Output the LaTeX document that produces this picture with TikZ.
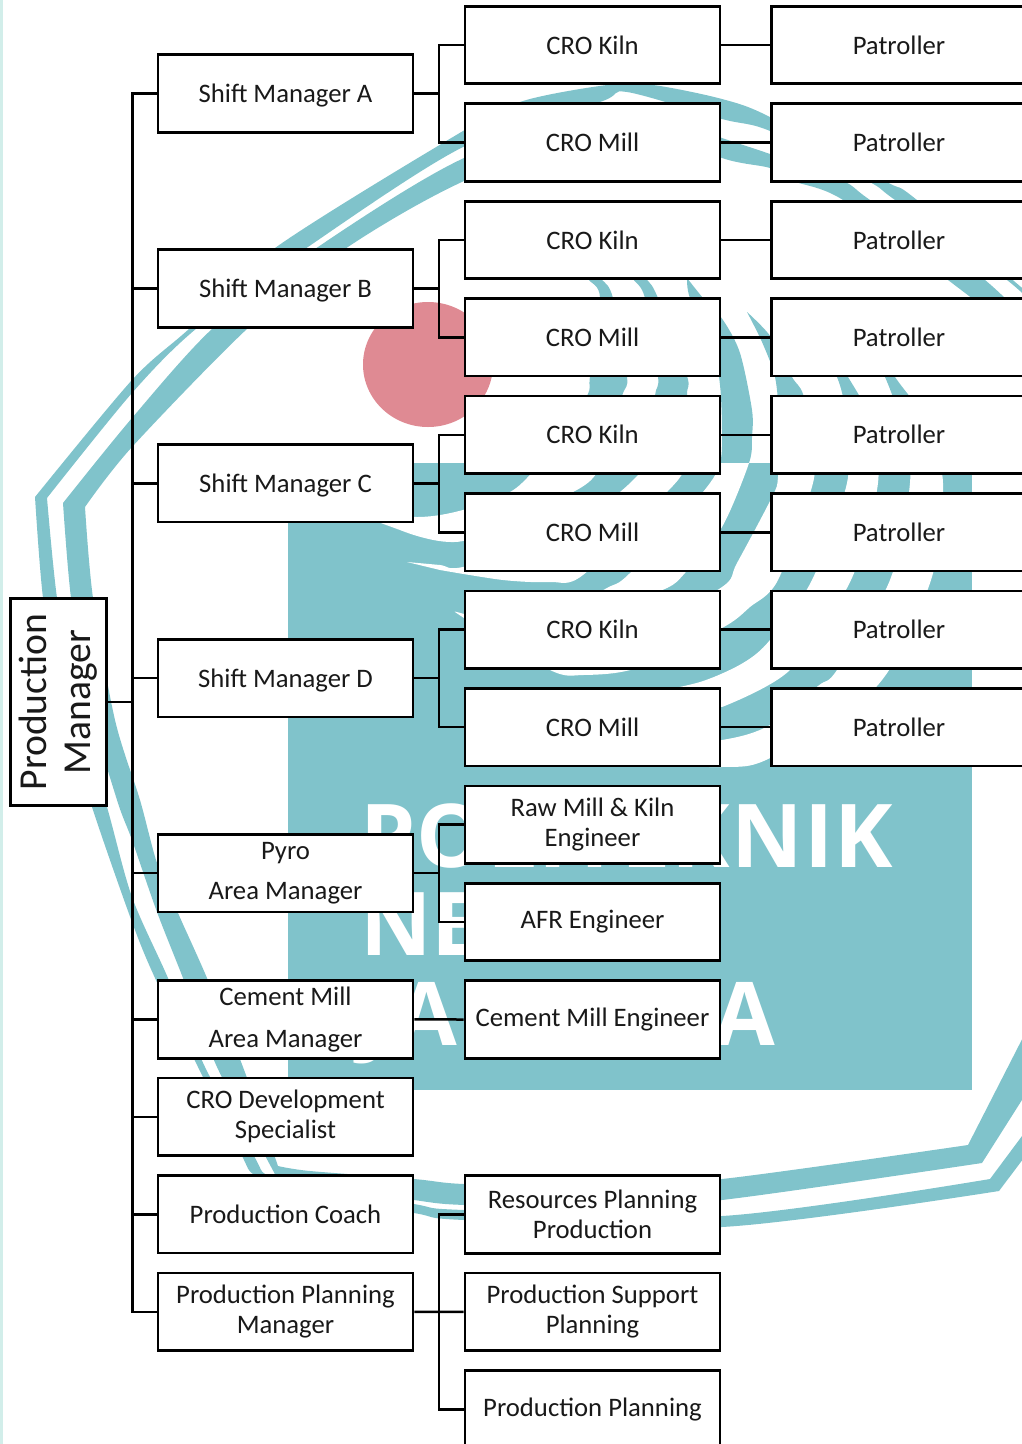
\documentclass[tikz,border=0pt]{standalone}
\usepackage{fontspec}
\setmainfont{Carlito}
\newfontfamily\logofont{Open Sans}
\definecolor{logoteal}{HTML}{80C3CB}
\definecolor{logored}{HTML}{DF8A93}
\definecolor{logostrip}{HTML}{D2EEEA}

% the rings are teal above the logo block and white inside it
\newcommand{\logorings}{
  plot[smooth,tension=.5] coordinates {(570,255) (587,278) (600,298) (590,376) (587,396) (555,450) (532,473) (510,492) (463,510) (417,517) (345,510)}
  -- plot[smooth,tension=.5] coordinates {(400,530) (463,541) (573,492) (597,473) (600,463) (622,396) (627,376) (613,298) (600,278) (570,255)} -- cycle
  plot[smooth,tension=.5] coordinates {(615,255) (632,278) (645,298) (658,376) (655,396) (648,463) (640,473) (620,492) (560,540) (463,567) (440,565) (407,562)}
  -- plot[smooth,tension=.5] coordinates {(440,570) (503,580) (550,582) (583,575) (667,492) (683,473) (690,463) (687,396) (687,376) (658,298) (645,278) (615,255)} -- cycle
  plot[smooth,tension=.5] coordinates {(687,278) (690,298) (712,340) (720,385) (722,430) (720,463) (703,492) (630,573) (607,588) (565,610)}
  -- plot[smooth,tension=.5] coordinates {(620,605) (667,588) (685,573) (722,527) (749,463) (752,437) (752,410) (740,353) (723,320) (703,298) (687,278)} -- cycle
  plot[smooth,tension=.5] coordinates {(747,312) (762,342) (775,377) (779,420) (778,477) (772,497) (737,563) (722,587) (640,630) (550,640) (464,614) (455,612)}
  -- plot[smooth,tension=.5] coordinates {(464,618) (550,670) (583,675) (637,668) (722,628) (750,607) (778,580) (813,483) (812,440) (803,394) (792,377) (771,337) (747,312)} -- cycle
  plot[smooth,tension=.5] coordinates {(800,305) (837,377) (846,420) (847,483) (812,580) (770,640) (743,663) (700,682) (640,695)}
  -- plot[smooth,tension=.5] coordinates {(722,707) (790,670) (851,580) (878,483) (870,420) (848,377) (800,305)} -- cycle
  plot[smooth,tension=.5] coordinates {(850,310) (885,377) (903,430) (910,483) (890,580) (837,670) (818,686) (770,725) (722,740) (620,750)}
  -- plot[smooth,tension=.5] coordinates {(660,764) (722,767) (770,758) (877,686) (931,580) (943,483) (925,420) (895,377) (850,310)} -- cycle
}

\begin{document}
\begin{tikzpicture}[x=1pt,y=-1pt,node distance=97.45pt,
    orgbox/.style={draw=black,fill=white,line width=2.7pt,minimum width=255pt,minimum height=77.5pt,
      inner sep=0pt,align=center,text=black!90,font=\fontsize{26.7}{30}\selectfont},
    shiftbox/.style={orgbox,text depth=0pt},
    link/.style={draw=black,line width=2.5pt},
    logoword/.style={anchor=base west,inner sep=0pt,text=white,font=\logofont\bfseries\fontsize{88}{88}\selectfont}]
    \useasboundingbox (0,0) rectangle (1021,1444);

    % logo behind the chart
    \fill[logostrip] (0,0) rectangle (3,1444);
    \fill[logoteal] plot[smooth,tension=.5] coordinates {(1060,320) (917,200) (885,181) (770,117) (722,99) (653,85) (607,85) (523,101) (463,131) (275,248) (190,328) (132,380) (35,497)}
        -- plot[smooth,tension=.5] coordinates {(35,497) (43,598) (60,700) (92,807) (132,922) (155,978) (198,1067) (242,1156) (253,1174) (285,1190)}
        -- plot[smooth,tension=.5] coordinates {(285,1190) (414,1213) (464,1220) (722,1227) (999,1191)}
        -- (1060,1110) -- (1060,1085) -- (990,1179)
        -- plot[smooth,tension=.5] coordinates {(990,1179) (722,1216) (464,1210) (414,1204) (290,1180)}
        -- plot[smooth,tension=.5] coordinates {(290,1180) (265,1174) (254,1156) (205,1067) (168,978) (132,897) (107,807) (75,700) (57,598) (47,498)}
        -- plot[smooth,tension=.5] coordinates {(47,498) (132,393) (197,328) (305,249) (463,147) (600,102) (627,92) (722,119) (770,131) (868,181) (895,200) (1007,280) (1060,330)} -- cycle;
    \fill[logoteal] plot[smooth,tension=.5] coordinates {(1060,355) (985,280) (870,200) (843,181) (770,154) (722,138) (627,105) (464,158) (315,249) (213,328) (132,418) (63,503)}
        -- plot[smooth,tension=.5] coordinates {(63,503) (71,598) (88,700) (117,800) (132,840) (157,912) (183,978) (217,1067) (262,1150) (277,1178)}
        -- plot[smooth,tension=.5] coordinates {(277,1178) (414,1200) (464,1205) (590,1208) (722,1200) (982,1163)}
        -- (1060,1040) -- (1060,965) -- (968,1145)
        -- plot[smooth,tension=.5] coordinates {(968,1145) (722,1179) (590,1186) (464,1184) (414,1179) (310,1171) (278,1166)}
        -- plot[smooth,tension=.5] coordinates {(278,1166) (243,1067) (207,978) (178,913) (157,863) (140,800) (115,720) (93,598) (85,507)}
        -- plot[smooth,tension=.5] coordinates {(85,507) (132,447) (248,328) (345,249) (464,181) (627,120) (722,158) (770,168) (793,181) (843,200) (948,280) (1060,365)} -- cycle;
    \fill[logored] (428,364.5) ellipse [x radius=65,y radius=62.5];
    \fill[logoteal] \logorings;
    \fill[logoteal] (288,463) rectangle (972,1090);
    \begin{scope}
        \clip (288,463) rectangle (972,1090);
        \fill[white] \logorings;
    \end{scope}
    \node[logoword] (wordOne) at (360,867) {\addfontfeature{LetterSpace=1.4}POLITEKNIK};
    \node[logoword] (wordTwo) at (360,955) {NEGERI};
    \node[logoword] (wordThree) at (360,1045) {\addfontfeature{LetterSpace=8}JAKARTA};

    % chart
    \node[draw=black,fill=white,line width=2.7pt,rotate=90,minimum width=207pt,minimum height=96pt,inner sep=0pt,
        align=center,text=black!90,font=\fontsize{39.6}{44}\selectfont] (prodMgr) at (58.5,702) {Production\\Manager};

    \node[shiftbox] (smA) at (285.5,93.5) {Shift Manager A};
    \node[shiftbox, below of=smA, node distance=194.9pt] (smB) {Shift Manager B};
    \node[shiftbox, below of=smB, node distance=194.9pt] (smC) {Shift Manager C};
    \node[shiftbox, below of=smC, node distance=194.9pt] (smD) {Shift Manager D};
    \node[orgbox, below of=smD, node distance=194.9pt] (pyroMgr) {Pyro\\[10pt]Area Manager};
    \node[orgbox, below of=pyroMgr, node distance=146.3pt] (cementMgr) {Cement Mill\\[12pt]Area Manager};
    \node[orgbox, below of=cementMgr] (croDev) {CRO Development\\Specialist};
    \node[orgbox, below of=croDev] (prodCoach) {Production Coach};
    \node[orgbox, below of=prodCoach] (planMgr) {Production Planning\\Manager};

    \node[orgbox] (kilnA) at (592.5,45) {CRO Kiln};
    \node[orgbox, below of=kilnA] (millA) {CRO Mill};
    \node[orgbox, below of=millA] (kilnB) {CRO Kiln};
    \node[orgbox, below of=kilnB] (millB) {CRO Mill};
    \node[orgbox, below of=millB] (kilnC) {CRO Kiln};
    \node[orgbox, below of=kilnC] (millC) {CRO Mill};
    \node[orgbox, below of=millC] (kilnD) {CRO Kiln};
    \node[orgbox, below of=kilnD] (millD) {CRO Mill};
    \node[orgbox, below of=millD] (rawEng) {Raw Mill \& Kiln\\Engineer};
    \node[orgbox, below of=rawEng] (afrEng) {AFR Engineer};
    \node[orgbox, below of=afrEng] (cementEng) {Cement Mill Engineer};
    \node[orgbox, below of=cementEng, node distance=194.9pt] (resPlan) {Resources Planning\\Production};
    \node[orgbox, below of=resPlan] (supPlan) {Production Support\\Planning};
    \node[orgbox, below of=supPlan] (prodPlan) {Production Planning};

    \node[orgbox, right of=kilnA, node distance=306.5pt] (patA) {Patroller};
    \node[orgbox, right of=millA, node distance=306.5pt] (patB) {Patroller};
    \node[orgbox, right of=kilnB, node distance=306.5pt] (patC) {Patroller};
    \node[orgbox, right of=millB, node distance=306.5pt] (patD) {Patroller};
    \node[orgbox, right of=kilnC, node distance=306.5pt] (patE) {Patroller};
    \node[orgbox, right of=millC, node distance=306.5pt] (patF) {Patroller};
    \node[orgbox, right of=kilnD, node distance=306.5pt] (patG) {Patroller};
    \node[orgbox, right of=millD, node distance=306.5pt] (patH) {Patroller};

    \coordinate (mainBus) at (132.5,0);
    \coordinate (subBus) at (439,0);

    \draw[link] (smA.west) -- (smA.west -| mainBus) -- (planMgr.west -| mainBus) -- (planMgr.west);
    \draw[link] (prodMgr.south) -- (prodMgr.south -| mainBus);
    \draw[link] (smB.west) -- (smB.west -| mainBus);
    \draw[link] (smC.west) -- (smC.west -| mainBus);
    \draw[link] (smD.west) -- (smD.west -| mainBus);
    \draw[link] (pyroMgr.west) -- (pyroMgr.west -| mainBus);
    \draw[link] (cementMgr.west) -- (cementMgr.west -| mainBus);
    \draw[link] (croDev.west) -- (croDev.west -| mainBus);
    \draw[link] (prodCoach.west) -- (prodCoach.west -| mainBus);

    \draw[link] (smA.east) -- (smA.east -| subBus);
    \draw[link] (kilnA.west) -- (kilnA.west -| subBus) -- (millA.west -| subBus) -- (millA.west);
    \draw[link] (smB.east) -- (smB.east -| subBus);
    \draw[link] (kilnB.west) -- (kilnB.west -| subBus) -- (millB.west -| subBus) -- (millB.west);
    \draw[link] (smC.east) -- (smC.east -| subBus);
    \draw[link] (kilnC.west) -- (kilnC.west -| subBus) -- (millC.west -| subBus) -- (millC.west);
    \draw[link] (smD.east) -- (smD.east -| subBus);
    \draw[link] (kilnD.west) -- (kilnD.west -| subBus) -- (millD.west -| subBus) -- (millD.west);
    \draw[link] (pyroMgr.east) -- (pyroMgr.east -| subBus);
    \draw[link] (rawEng.west) -- (rawEng.west -| subBus) -- (afrEng.west -| subBus) -- (afrEng.west);
    \draw[link] (cementMgr.east) -- (cementEng.west);
    \draw[link] (planMgr.east) -- (supPlan.west);
    \draw[link] (resPlan.west) -- (resPlan.west -| subBus) -- (prodPlan.west -| subBus) -- (prodPlan.west);

    \draw[link] (kilnA) -- (patA);
    \draw[link] (millA) -- (patB);
    \draw[link] (kilnB) -- (patC);
    \draw[link] (millB) -- (patD);
    \draw[link] (kilnC) -- (patE);
    \draw[link] (millC) -- (patF);
    \draw[link] (kilnD) -- (patG);
    \draw[link] (millD) -- (patH);
\end{tikzpicture}
\end{document}
